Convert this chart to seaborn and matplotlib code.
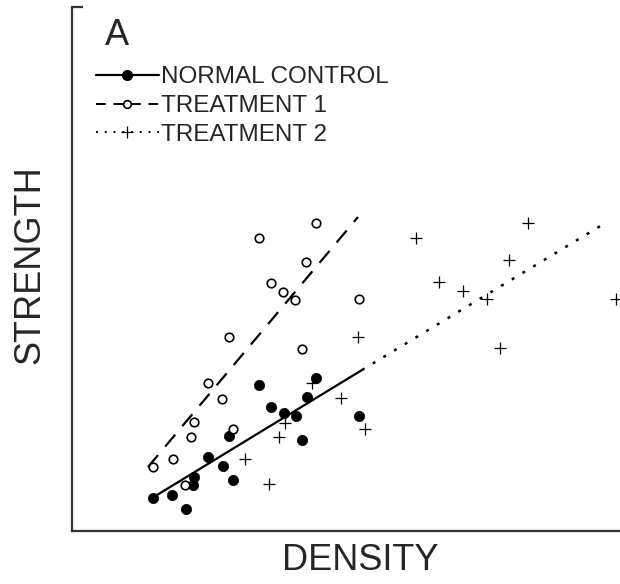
import pandas as pd
import matplotlib
matplotlib.use("Agg")
import matplotlib.pyplot as plt
from matplotlib.lines import Line2D
import seaborn as sns

# values (arbitrary density / strength units)
normal_x = [81, 100, 114, 121, 122, 136, 151, 161, 157, 187, 199, 212, 224, 230, 235, 244, 287]
normal_y = [33, 36, 22, 46, 54, 74, 65, 51, 95, 146, 124, 118, 115, 91, 134, 153, 115]

treat1_x = [81, 101, 113, 119, 122, 136, 150, 161, 157, 187, 199, 211, 223, 234, 244, 230, 287]
treat1_y = [64, 72, 46, 94, 109, 148, 132, 102, 194, 293, 248, 239, 231, 269, 308, 182, 232]

treat2_x = [173, 197, 207, 213, 240, 269, 286, 293, 344, 367, 391, 415, 428, 437, 456, 544]
treat2_y = [72, 47, 94, 108, 148, 133, 194, 102, 293, 249, 240, 232, 183, 271, 308, 232]

# end points of the fitted lines as drawn
fit_normal_x = [85, 290]
fit_normal_y = [36, 161]
fit_treat1_x = [76, 286]
fit_treat1_y = [64, 314]
fit_treat2_x = [290, 535]
fit_treat2_y = [161, 309]

labels = ["NORMAL CONTROL", "TREATMENT 1", "TREATMENT 2"]

sns.set_style("white")
plt.rcParams['font.family'] = ['Liberation Sans', 'DejaVu Sans']

fig = plt.figure(figsize=(6.2, 5.84), dpi=100)
ax = fig.add_axes([72 / 620, 53 / 584, 548 / 620, 524 / 584])

df_n = pd.DataFrame({'x': normal_x, 'y': normal_y})
df_1 = pd.DataFrame({'x': treat1_x, 'y': treat1_y})
df_2 = pd.DataFrame({'x': treat2_x, 'y': treat2_y})

# fitted lines
sns.lineplot(x=fit_normal_x, y=fit_normal_y, ax=ax, color='black', lw=1.6)
sns.lineplot(x=fit_treat1_x, y=fit_treat1_y, ax=ax, color='black', lw=1.6,
             linestyle=(0, (7, 5)))
sns.lineplot(x=fit_treat2_x, y=fit_treat2_y, ax=ax, color='black', lw=1.8,
             linestyle=(0, (1.2, 3.8)))

# points
sns.scatterplot(data=df_n, x='x', y='y', ax=ax, color='black', s=55,
                edgecolor='black', linewidth=0.5, zorder=3)
sns.scatterplot(data=df_1, x='x', y='y', ax=ax, facecolor='white', s=38,
                edgecolor='black', linewidth=1.2, zorder=3)
sns.scatterplot(data=df_2, x='x', y='y', ax=ax, color='black', marker='+', s=70,
                linewidth=0.9, zorder=3)

ax.set_xlim(0, 548)
ax.set_ylim(0, 524)

for side in ['top', 'right']:
    ax.spines[side].set_visible(False)
for side in ['left', 'bottom']:
    ax.spines[side].set_linewidth(1.6)
    ax.spines[side].set_color('#333333')

ax.set_xticks([])
ax.set_yticks([524])
ax.tick_params(axis='y', left=True, direction='in', length=8, width=1.6,
               color='#333333', labelleft=False)

ax.set_xlabel("DENSITY", fontsize=26)
ax.xaxis.set_label_coords(0.526, -0.022)
ax.set_ylabel("STRENGTH", fontsize=26)
ax.yaxis.set_label_coords(-0.045, 0.508)

ax.text(0.06, 0.927, "A", transform=ax.transAxes, fontsize=26, va='baseline')

handles = [
    Line2D([], [], color='black', lw=1.6, marker='o', markersize=7),
    Line2D([], [], color='black', lw=1.4, linestyle=(0, (5, 4)), marker='o',
           markersize=5.5, markerfacecolor='white', markeredgewidth=1.2),
    Line2D([], [], color='black', lw=1.4, linestyle=(0, (1, 3.5)), marker='+',
           markersize=8, markeredgewidth=0.9),
]
ax.legend(handles, labels, loc='upper left', bbox_to_anchor=(0.043, 0.887),
          frameon=False, fontsize=17.5, handlelength=2.6, handletextpad=0.1,
          borderpad=0, borderaxespad=0, labelspacing=0.28)

fig.savefig("out.png", dpi=100)
